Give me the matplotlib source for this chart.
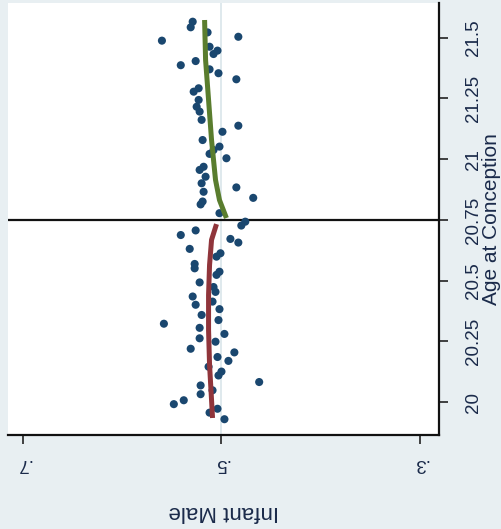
import matplotlib
matplotlib.use("Agg")
import matplotlib.pyplot as plt

plt.rcParams['font.family'] = ['Liberation Sans', 'DejaVu Sans']

# ---- data ----
age = [21.566, 21.543, 21.522, 21.504, 21.488, 21.463, 21.447, 21.433, 21.404, 21.387,
       21.370, 21.354, 21.329, 21.292, 21.278, 21.244, 21.216, 21.196, 21.162, 21.138,
       21.113, 21.079, 21.052, 21.038, 21.022, 21.004, 20.969, 20.956, 20.928, 20.901,
       20.884, 20.866, 20.841, 20.826, 20.814, 20.778, 20.743, 20.727, 20.707, 20.688,
       20.672, 20.657, 20.631, 20.613, 20.599, 20.569, 20.551, 20.537, 20.524, 20.493,
       20.474, 20.454, 20.435, 20.414, 20.401, 20.383, 20.359, 20.338, 20.323, 20.306,
       20.281, 20.263, 20.249, 20.220, 20.205, 20.186, 20.170, 20.146, 20.126, 20.110,
       20.083, 20.069, 20.049, 20.033, 20.008, 19.992, 19.973, 19.957, 19.930]
male = [0.529, 0.531, 0.514, 0.483, 0.560, 0.512, 0.504, 0.508, 0.526, 0.541,
        0.512, 0.503, 0.485, 0.523, 0.528, 0.523, 0.525, 0.522, 0.520, 0.483,
        0.499, 0.519, 0.502, 0.508, 0.512, 0.495, 0.518, 0.522, 0.516, 0.520,
        0.485, 0.518, 0.468, 0.519, 0.521, 0.502, 0.476, 0.480, 0.526, 0.541,
        0.491, 0.483, 0.532, 0.501, 0.505, 0.527, 0.527, 0.502, 0.505, 0.522,
        0.508, 0.506, 0.529, 0.509, 0.526, 0.502, 0.520, 0.503, 0.558, 0.522,
        0.497, 0.522, 0.506, 0.531, 0.487, 0.504, 0.493, 0.513, 0.500, 0.503,
        0.462, 0.521, 0.509, 0.521, 0.538, 0.548, 0.504, 0.512, 0.497]

fit_below_age = [19.935, 20.009, 20.153, 20.297, 20.441, 20.565, 20.668, 20.733]
fit_below_male = [0.509, 0.510, 0.512, 0.513, 0.513, 0.512, 0.510, 0.505]
fit_above_age = [20.758, 20.832, 20.915, 21.079, 21.244, 21.408, 21.573]
fit_above_male = [0.495, 0.502, 0.506, 0.510, 0.513, 0.516, 0.517]

cutoff = 20.75
x_ticks = [0.7, 0.5, 0.3]
x_ticklabels = ['.7', '.5', '.3']
y_ticks = [20, 20.25, 20.5, 20.75, 21, 21.25, 21.5]
y_ticklabels = ['20', '20.25', '20.5', '20.75', '21', '21.25', '21.5']

# ---- style ----
BG = '#e8eff2'
GRID = '#d9e5ea'
NAVY = '#1a476f'
MAROON = '#90353b'
GREEN = '#5a7d2e'
TXT = '#1a2a4a'

W, H = 502, 529
fig = plt.figure(figsize=(W / 100, H / 100), dpi=100, facecolor=BG)
L, R, T, B = 8, 439, 3, 435
ax = fig.add_axes([L / W, 1 - B / H, (R - L) / W, (B - T) / H])
ax.set_facecolor('white')

ax.axhline(cutoff, color='#111111', lw=1.6, zorder=2)
ax.scatter(male, age, s=34, color=NAVY, edgecolors='none', zorder=3)
ax.plot(fit_below_male, fit_below_age, color=MAROON, lw=3.6, zorder=4,
        solid_capstyle='butt')
ax.plot(fit_above_male, fit_above_age, color=GREEN, lw=3.6, zorder=4,
        solid_capstyle='butt')

ax.set_xlim(0.7151, 0.2808)
ax.set_ylim(19.865, 21.643)

ax.set_xticks(x_ticks)
ax.set_xticklabels(x_ticklabels)
ax.set_yticks(y_ticks)
ax.set_yticklabels(y_ticklabels)

ax.yaxis.tick_right()
ax.yaxis.set_label_position('right')

ax.tick_params(axis='x', labelrotation=180, length=6.5, width=1.1, pad=8,
               labelsize=13.5, colors='#111111', labelcolor=TXT)
ax.tick_params(axis='y', labelrotation=90, length=6.5, width=1.1, pad=12.5,
               labelsize=13.5, colors='#111111', labelcolor=TXT)
for lab in ax.get_yticklabels():
    lab.set_va('center')

ax.grid(axis='x', color=GRID, lw=1.2, zorder=0)
ax.set_axisbelow(True)
gls = ax.xaxis.get_gridlines()
for i, gl in enumerate(gls):
    if i == 0 or i == len(gls) - 1:
        gl.set_visible(False)

for side in ['left', 'top']:
    ax.spines[side].set_visible(False)
for side in ['right', 'bottom']:
    ax.spines[side].set_color('#111111')
    ax.spines[side].set_linewidth(1.6)

ax.set_xlabel('Infant Male', rotation=180, fontsize=16, color=TXT,
              va='center', ha='center')
ax.xaxis.set_label_coords(0.501, -0.176)
ax.set_ylabel('Age at Conception', rotation=90, fontsize=15, color=TXT,
              va='center', ha='center')
ax.yaxis.set_label_coords(1.121, 0.5)

fig.savefig('out.png', dpi=100, facecolor=BG)
